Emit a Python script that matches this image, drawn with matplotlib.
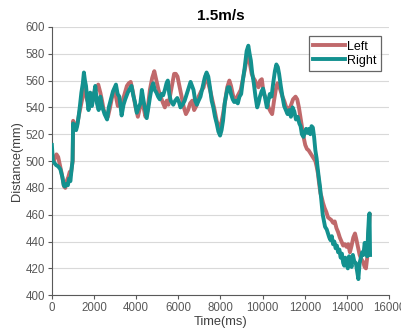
import matplotlib
matplotlib.use("Agg")
import matplotlib.pyplot as plt

plt.rcParams['font.family'] = ['Liberation Sans', 'DejaVu Sans']

# Right (teal) trace: time [ms], distance [mm]
right_t = [0, 50, 100, 200, 300, 400, 500, 560, 620, 700, 760, 820, 880, 930, 980,
           1010, 1060, 1100, 1150, 1200, 1260, 1330, 1400, 1470, 1520, 1570, 1620, 1680,
           1740, 1820, 1900, 1980, 2060, 2140, 2220, 2300, 2380, 2500, 2620, 2700, 2800,
           2900, 3040, 3120, 3200, 3310, 3400, 3480, 3600, 3700, 3780, 3860, 3940, 4030,
           4120, 4200, 4270, 4350, 4430, 4500, 4580, 4660, 4740, 4810, 4880, 4960, 5040,
           5120, 5200, 5280, 5360, 5440, 5500, 5570, 5640, 5760, 5850, 5950, 6030, 6100,
           6200, 6300, 6400, 6500, 6580, 6650, 6720, 6800, 6880, 6960, 7050, 7150, 7250,
           7340, 7420, 7500, 7580, 7660, 7740, 7820, 7900, 7980, 8050, 8120, 8200, 8280,
           8350, 8430, 8500, 8580, 8650, 8740, 8820, 8900, 8980, 9060, 9150, 9240, 9320,
           9380, 9440, 9500, 9580, 9660, 9740, 9800, 9870, 9950, 10020, 10080, 10140,
           10200, 10270, 10340, 10420, 10500, 10580, 10650, 10720, 10780, 10860, 10940,
           11020, 11100, 11180, 11260, 11340, 11420, 11500, 11580, 11660, 11740, 11800,
           11860, 11940, 12000, 12060, 12120, 12200, 12260, 12320, 12380, 12440, 12500,
           12560, 12600, 12660, 12720, 12780, 12850, 12900, 12960, 13040, 13100, 13160,
           13220, 13280, 13340, 13400, 13460, 13520, 13580, 13640, 13700, 13760, 13820,
           13870, 13920, 13980, 14040, 14100, 14160, 14220, 14280, 14350, 14420, 14480,
           14540, 14600, 14660, 14720, 14780, 14840, 14900, 14960, 15000, 15040, 15070,
           15085, 15095]
right_d = [512, 500, 499, 497, 496, 494, 488, 482, 481, 483, 482, 487, 485, 493, 500,
           528, 524, 527, 523, 526, 532, 541, 551, 558, 566, 560, 556, 546,
           538, 551, 541, 548, 556, 543, 538, 548, 541, 535, 531, 540, 546,
           552, 557, 550, 548, 534, 542, 546, 551, 554, 556, 549, 544, 536,
           540, 543, 553, 545, 538, 532, 540, 548, 555, 558, 553, 551, 548,
           546, 550, 549, 553, 558, 560, 550, 545, 542, 545, 547, 544, 540,
           542, 545, 550, 555, 559, 556, 553, 545, 542, 545, 548, 555, 562,
           566, 563, 555, 545, 540, 533, 528, 522, 519, 523, 530, 543, 550,
           555, 555, 550, 546, 544, 545, 543, 548, 550, 560, 570, 582, 586,
           580, 575, 566, 558, 548, 540, 543, 548, 552, 554, 550, 545,
           540, 545, 550, 548, 558, 567, 572, 570, 565, 556, 548,
           541, 538, 535, 538, 533, 540, 537, 531, 533, 528, 526,
           520, 518, 522, 524, 521, 524, 520, 526, 525, 518, 508,
           502, 496, 488, 481, 471, 460, 456, 451, 449, 446, 443,
           441, 444, 438, 440, 435, 437, 432, 434, 428, 431, 424,
           422, 428, 424, 420, 429, 424, 421, 430, 425, 424, 418,
           412, 424, 428, 432, 430, 439, 434, 429, 446, 458, 461,
           445, 430]

# Left (red) trace
left_t = [0, 80, 150, 220, 300, 380, 450, 520, 580, 640, 700, 780, 850, 900, 950, 990,
          1010, 1070, 1130, 1200, 1280, 1360, 1450, 1520, 1590, 1660, 1740, 1830, 1920,
          2000, 2100, 2200, 2300, 2380, 2460, 2560, 2660, 2760, 2860, 2950, 3040, 3130,
          3220, 3320, 3450, 3560, 3650, 3740, 3840, 3960, 4080, 4180, 4270, 4350, 4440,
          4530, 4650, 4760, 4860, 4960, 5060, 5160, 5280, 5360, 5450, 5530, 5600, 5700,
          5800, 5880, 5960, 6050, 6150, 6260, 6360, 6460, 6560, 6660, 6750, 6850, 6960,
          7080, 7200, 7300, 7420, 7520, 7620, 7720, 7820, 7920, 8020, 8120, 8220, 8320,
          8420, 8500, 8580, 8660, 8760, 8860, 8960, 9050, 9150, 9250, 9320, 9400, 9480,
          9560, 9640, 9720, 9800, 9880, 9960, 10050, 10120, 10200, 10280, 10370, 10450,
          10540, 10620, 10700, 10780, 10860, 10940, 11020, 11120, 11220, 11330, 11440,
          11560, 11640, 11720, 11800, 11860, 11940, 12020, 12100, 12180, 12260, 12340,
          12420, 12500, 12560, 12620, 12680, 12740, 12800, 12860, 12940, 13020, 13100,
          13180, 13260, 13340, 13420, 13500, 13580, 13660, 13740, 13820, 13900, 13980,
          14060, 14140, 14220, 14300, 14380, 14440, 14520, 14600, 14680, 14760, 14840,
          14900, 14960, 15000, 15040, 15080]
left_d = [500, 499, 503, 505, 503, 497, 492, 486, 481, 480, 485, 488, 492, 490, 496, 500,
          530, 527, 524, 527, 534, 540, 547, 557, 552, 546, 543, 541, 546,
          551, 553, 557, 551, 545, 538, 535, 533, 540, 548, 553, 548, 541,
          545, 543, 550, 556, 558, 559, 552, 541, 533, 540, 546, 540, 533,
          537, 553, 562, 567, 560, 553, 548, 543, 540, 545, 542, 548, 557,
          565, 565, 563, 556, 548, 540, 535, 538, 543, 545, 538, 541, 548,
          552, 555, 564, 558, 552, 545, 538, 530, 525, 527, 535, 545, 555,
          560, 556, 550, 545, 547, 550, 553, 560, 568, 577, 580, 572, 565,
          562, 560, 557, 555, 560, 561, 550, 548, 545, 540, 537, 535,
          545, 553, 558, 556, 552, 548, 545, 540, 538, 541, 546,
          548, 546, 540, 532, 526, 518, 512, 509, 508, 506, 504,
          502, 500, 496, 491, 483, 476, 473, 469, 465, 462, 458,
          457, 456, 454, 455, 450, 447, 443, 440, 437, 438, 436,
          438, 432, 437, 443, 446, 442, 436, 430, 427, 425, 421,
          420, 428, 441, 451, 460]

y_ticks = [400, 420, 440, 460, 480, 500, 520, 540, 560, 580, 600]
x_ticks = [0, 2000, 4000, 6000, 8000, 10000, 12000, 14000, 16000]

fig = plt.figure(figsize=(4.02, 3.28), dpi=100)
ax = fig.add_axes([0.129, 0.100, 0.839, 0.818])

ax.plot(left_t, left_d, color='#c0696b', lw=2.8, label='Left', zorder=3)
ax.plot(right_t, right_d, color='#13918f', lw=2.8, label='Right', zorder=4)

ax.set_xlim(0, 16000)
ax.set_ylim(400, 600)
ax.set_xticks(x_ticks)
ax.set_yticks(y_ticks)
ax.grid(axis='y', color='#d9d9d9', lw=0.8, zorder=0)
ax.set_axisbelow(True)

for side in ['top', 'right']:
    ax.spines[side].set_visible(False)
for side in ['left', 'bottom']:
    ax.spines[side].set_color('#595959')
    ax.spines[side].set_linewidth(0.8)
ax.tick_params(axis='both', direction='out', length=3, width=0.8, color='#595959',
               labelsize=8.3, labelcolor='#595959', pad=2)

ax.set_title('1.5m/s', fontsize=11, fontweight='bold', pad=5)
ax.set_xlabel('Time(ms)', fontsize=9.3, color='#404040', labelpad=1)
ax.set_ylabel('Distance(mm)', fontsize=9.3, color='#404040', labelpad=2)

leg = ax.legend(loc='upper right', bbox_to_anchor=(0.976, 0.965), fontsize=9,
                frameon=True, fancybox=False, edgecolor='#404040',
                handlelength=2.5, handletextpad=0.2, borderpad=0.35,
                labelspacing=0.15, borderaxespad=0)
leg.get_frame().set_linewidth(0.9)

fig.savefig('out.png', dpi=100)
